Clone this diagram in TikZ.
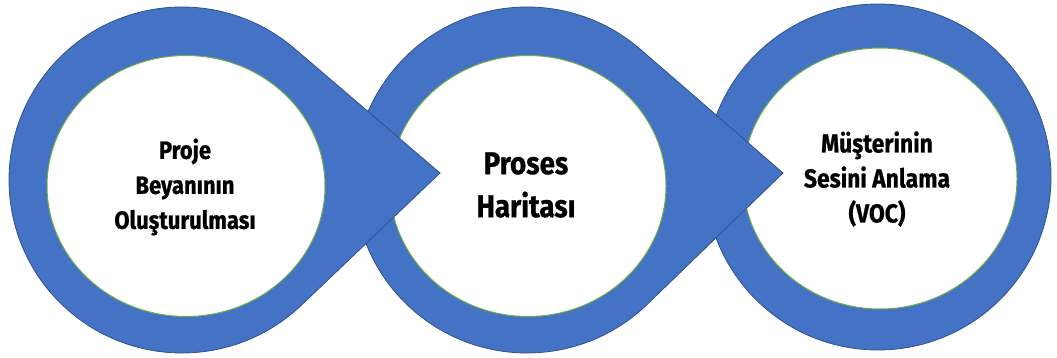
\documentclass[tikz,border=0pt]{standalone}
\usepackage{fontspec}
\setmainfont{Fira Sans}[FakeStretch=0.88,FakeBold=0.8]
\usetikzlibrary{shapes.geometric}
\definecolor{ringblue}{HTML}{4472C4}
\definecolor{ringedge}{HTML}{2F528F}
\definecolor{holegreen}{HTML}{70AD47}
\begin{document}
\begin{tikzpicture}[x=1pt,y=1pt,
  ring/.style={fill=ringblue,draw=ringedge,line width=0.8pt,line join=miter},
  hole/.style={ellipse,fill=white,draw=holegreen,line width=1pt,inner sep=0pt,outer sep=0pt},
  steptext/.style={align=center,inner sep=0pt,text=black}]
\useasboundingbox (0,0) rectangle (1057,358);

% centres of the rings and the points of the drops
\coordinate (c1) at (182,178);
\coordinate (t1) at (440,185);
\coordinate (c2) at (527,178);
\coordinate (t2) at (783,185);
\coordinate (c3) at (878,181);

% third step: plain ring
\draw[ring] (c3) circle[radius=173];
\node[hole,minimum width=274pt,minimum height=261pt] (h3) at (880,179.5) {};
\node[steptext,font={\fontsize{26}{35}\selectfont\bfseries}] (s3) at (877,179)
  {Müşterinin\\Sesini Anlama\\(VOC)};

% second step: drop pointing to the third
\draw[ring] (t2) -- ([shift={(49.1:173)}]c2) arc[start angle=49.1,end angle=314.1,radius=173] -- cycle;
\node[hole,minimum width=276pt,minimum height=261pt] (h2) at (528,172) {};
\node[steptext,font={\fontsize{31.5}{43}\selectfont\bfseries}] (s2) at (526,173)
  {Proses\\Haritası};

% first step: drop pointing to the second
\draw[ring] (t1) -- ([shift={(49.5:173)}]c1) arc[start angle=49.5,end angle=313.6,radius=173] -- cycle;
\node[hole,minimum width=278pt,minimum height=261pt] (h1) at (186,172) {};
\node[steptext,font={\fontsize{25}{35}\selectfont\bfseries}] (s1) at (185,171)
  {Proje\\Beyanının\\Oluşturulması};
\end{tikzpicture}
\end{document}
